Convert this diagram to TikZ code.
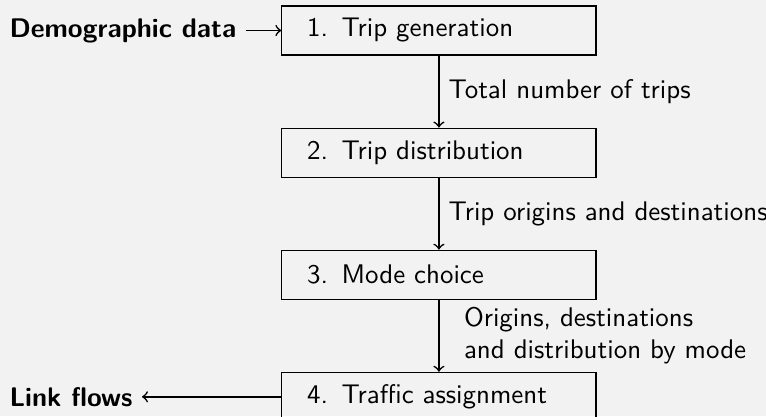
\documentclass[tikz,border=0pt]{standalone}
\usepackage{tikz}
\usetikzlibrary{positioning}
\usetikzlibrary{arrows}
\renewcommand{\familydefault}{\sfdefault}

\begin{document}
\begin{tikzpicture}[
  stage/.style={draw, rectangle, minimum width=4.10cm, minimum height=0.64cm,
    inner xsep=0.33cm, text width=3.44cm, align=left},
  extern/.style={anchor=west, font=\bfseries},
  flow/.style={->, semithick}
]

% Background and frame
\fill[black!5] (0,0) rectangle (10,-5.431);
\useasboundingbox (0,0) rectangle (10,-5.431);
\coordinate (edge) at (0,0);

% Model stages
\node[stage] (gen) at (5.73,-0.398) {1. Trip generation};
\node[stage, below=0.94cm of gen] (dist) {2. Trip distribution};
\node[stage, below=0.94cm of dist] (mode) {3. Mode choice};
\node[stage, below=0.94cm of mode] (assign) {4. Traffic assignment};

% Input and output
\node[extern] (demo) at (edge |- gen) {Demographic data};
\node[extern] (links) at (edge |- assign) {Link flows};

% Connections
\draw[flow] (demo) -- (gen);
\draw[flow] (gen) -- node[right] {Total number of trips} (dist);
\draw[flow] (dist) -- node[right] {Trip origins and destinations} (mode);
\draw[flow] (mode) -- node[right, xshift=0.2cm, align=left]
  {Origins, destinations\\and distribution by mode} (assign);
\draw[flow] (assign) -- (links);

\end{tikzpicture}
\end{document}
